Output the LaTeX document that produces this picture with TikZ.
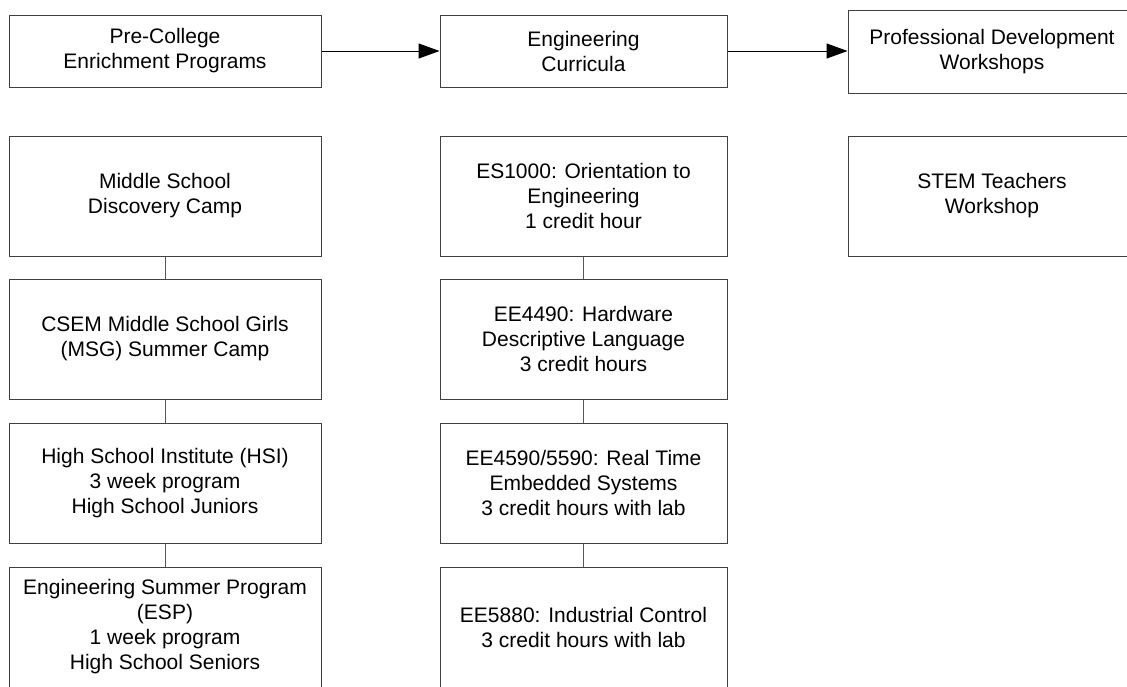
\documentclass[tikz,border=0pt]{standalone}
\usepackage{fontspec}
\setmainfont{Liberation Sans}
\usetikzlibrary{arrows.meta}
\begin{document}
\begin{tikzpicture}[x=1pt,y=-1pt,
  box/.style={draw=black!75, line width=1pt, rectangle, inner sep=0pt, align=center,
    font=\fontsize{21}{25}\selectfont},
  lbox/.style={box, minimum width=312pt, minimum height=120pt},
  mbox/.style={box, minimum width=287pt, minimum height=120pt},
  rbox/.style={box, minimum width=288pt, minimum height=120pt},
  flow/.style={draw=black, line width=1pt, -{Triangle[length=21pt,width=15pt]}},
  link/.style={draw=black!65, line width=1pt}]
\useasboundingbox (0,0) rectangle (1127,686);
\clip (0,0) rectangle (1127,686);
\fill[white] (0,0) rectangle (1127,686);
% top row
\node[box, minimum width=312pt, minimum height=72pt] (pre) at (165,51) {Pre-College\\Enrichment Programs};
\node[box, minimum width=287pt, minimum height=72pt] (eng) at (583.5,51) {Engineering\\Curricula};
\node[box, minimum width=288pt, minimum height=83pt] (pro) at (992,51.5) {Professional Development\\Workshops};
% left column
\node[lbox] (ms) at (165,196) {Middle School\\Discovery Camp};
\node[lbox] (csem) at (165,339) {CSEM Middle School Girls\\(MSG) Summer Camp};
\node[lbox] (hsi) at (165,483) {High School Institute (HSI)\\3 week program\\High School Juniors};
\node[lbox] (esp) at (165,627) {Engineering Summer Program\\(ESP)\\1 week program\\High School Seniors};
% middle column
\node[mbox] (es) at (583.5,196) {ES1000: Orientation to\\Engineering\\1 credit hour};
\node[mbox] (hdl) at (583.5,339) {EE4490: Hardware\\Descriptive Language\\3 credit hours};
\node[mbox] (rt) at (583.5,483) {EE4590/5590: Real Time\\Embedded Systems\\3 credit hours with lab};
\node[mbox] (ic) at (583.5,627) {EE5880: Industrial Control\\3 credit hours with lab};
% right column
\node[rbox] (stem) at (992,196) {STEM Teachers\\Workshop};
% connectors
\draw[flow] (pre.east) -- (eng.west);
\draw[flow] (eng.east) -- (pro.west |- eng.east);
\draw[link] (ms.south) -- (csem.north);
\draw[link] (csem.south) -- (hsi.north);
\draw[link] (hsi.south) -- (esp.north);
\draw[link] (es.south) -- (hdl.north);
\draw[link] (hdl.south) -- (rt.north);
\draw[link] (rt.south) -- (ic.north);
\end{tikzpicture}
\end{document}
